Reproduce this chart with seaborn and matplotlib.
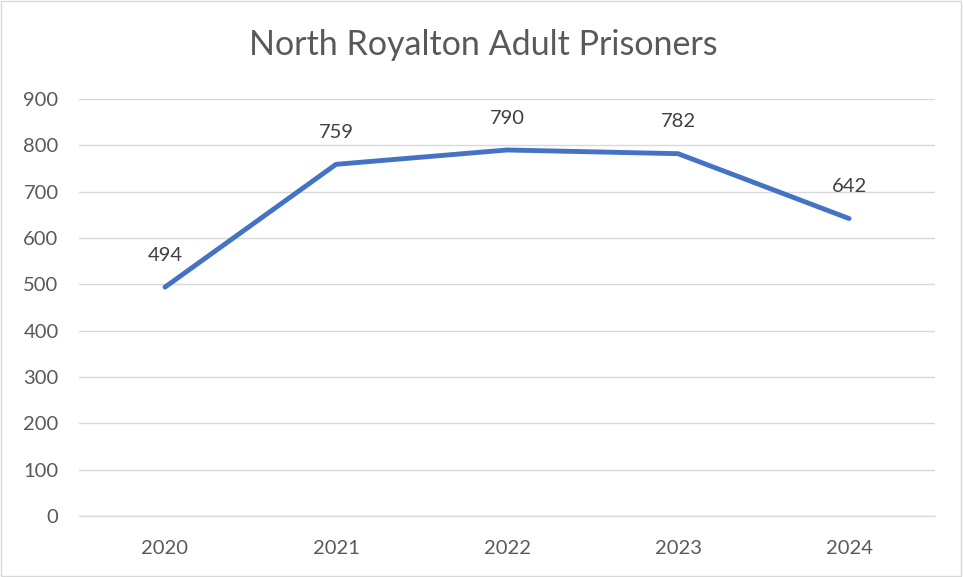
import matplotlib
matplotlib.use("Agg")
import matplotlib.pyplot as plt
import seaborn as sns
import pandas as pd
from matplotlib.patches import Rectangle

years = ["2020", "2021", "2022", "2023", "2024"]
prisoners = [494, 759, 790, 782, 642]
yticks = [0, 100, 200, 300, 400, 500, 600, 700, 800, 900]

df = pd.DataFrame({"year": years, "prisoners": prisoners})

sns.set_theme(style="white")
plt.rcParams["font.family"] = ["Lato", "DejaVu Sans"]

fig = plt.figure(figsize=(9.63, 5.77), dpi=100)
ax = fig.add_axes([0.0825, 0.1057, 0.888, 0.7227])

sns.lineplot(data=df, x="year", y="prisoners", ax=ax, color="#4472C4",
             linewidth=3.5, sort=False, solid_capstyle="round", zorder=3)

ax.set_xlim(-0.5, 4.5)
ax.set_ylim(0, 900)
ax.set_yticks(yticks)
ax.grid(axis="y", color="#D9D9D9", linewidth=1)
ax.grid(axis="x", visible=False)
for s in ["top", "right", "left"]:
    ax.spines[s].set_visible(False)
ax.spines["bottom"].set_color("#D9D9D9")
ax.spines["bottom"].set_linewidth(1)
ax.tick_params(axis="both", length=0, colors="#595959", labelsize=14.5)
ax.tick_params(axis="y", pad=15)
ax.tick_params(axis="x", pad=17)
ax.set_xlabel("")
ax.set_ylabel("")

for i, v in enumerate(prisoners):
    ax.annotate(str(v), (i, v), xytext=(0, 23), textcoords="offset points",
                ha="center", va="center", fontsize=14.5, color="#404040")

fig.text(0.5015, 0.922, "North Royalton Adult Prisoners", ha="center", va="center",
         fontsize=24.5, color="#595959")

fig.patches.append(Rectangle((0.001, 0.002), 0.997, 0.996, transform=fig.transFigure,
                             fill=False, edgecolor="#D9D9D9", linewidth=1))

fig.savefig("out.png", dpi=100)
